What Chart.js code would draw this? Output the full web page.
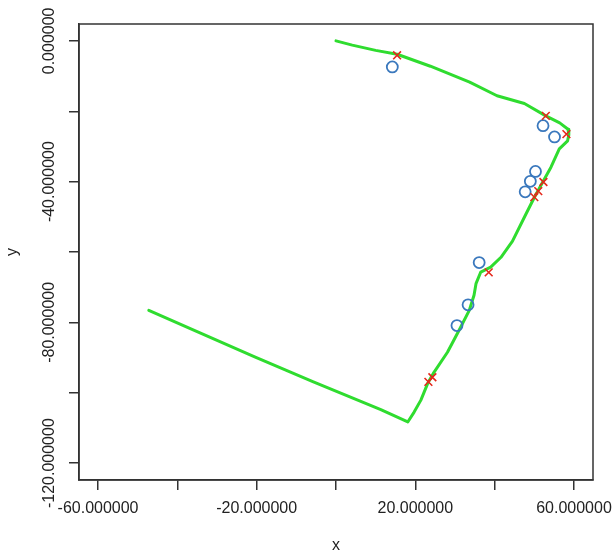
<!DOCTYPE html>
<html>
<head>
<meta charset="utf-8">
<script src="https://cdn.jsdelivr.net/npm/chart.js@4/dist/chart.umd.min.js"></script>
<style>
  html, body { margin: 0; padding: 0; background: #fff; }
  #plot { display: block; }
</style>
</head>
<body>
<canvas id="plot" width="612" height="555"></canvas>
<script>
// Track (green line)
const pathX = [0, 4.1, 10.0, 15.4, 23.8, 33.7, 40.6, 47.5, 52.9, 56.4, 58.5, 58.7, 58.4, 56.3, 54.2, 52.1, 50.0, 47.9, 44.5, 41.6, 39.0, 36.5, 35.3, 34.8, 33.6, 31.0, 28.1, 24.7, 23.1, 21.4, 19.7, 18.1, 11.3, -5.7, -20.5, -35.3, -47.2];
const pathY = [0, -1.2, -2.7, -3.8, -7.2, -11.7, -15.6, -17.8, -21.3, -23.3, -25.1, -26.7, -28.4, -30.7, -35.9, -40.2, -44.5, -49.2, -56.9, -61.5, -64.3, -65.7, -69.0, -72.3, -76.6, -82.3, -88.5, -94.2, -97.4, -102.1, -105.5, -108.3, -104.8, -96.9, -89.8, -82.5, -76.6];

// Blue circles
const circleX = [14.2, 52.2, 55.1, 50.3, 49.0, 47.7, 36.1, 33.3, 30.5];
const circleY = [-7.4, -24.1, -27.3, -37.1, -39.9, -42.9, -63.0, -75.0, -80.9];

// Red crosses
const crossX = [15.4, 52.9, 58.1, 52.3, 51.0, 50.0, 38.5, 24.3, 23.3];
const crossY = [-4.1, -21.3, -26.5, -40.1, -42.7, -44.4, -65.8, -95.6, -96.9];

// Axes
const xRange = [-64.8, 64.8];
const yRange = [-124.8, 4.8];
const xTickValues = [-60, -40, -20, 0, 20, 40, 60];
const yTickValues = [0, -20, -40, -60, -80, -100, -120];
const xLabelValues = [-60, -20, 20, 60];
const yLabelValues = [0, -40, -80, -120];

const toPoints = (xs, ys) => xs.map((x, i) => ({ x: x, y: ys[i] }));
const fontFamily = '"Liberation Sans", Arial, sans-serif';
const axisColor = '#333';
const textColor = '#222';

// box around the plot, rotated y labels and y title (R style)
const rStyle = {
  id: 'rStyle',
  afterDraw(chart) {
    const { ctx, chartArea: a, scales } = chart;
    ctx.save();
    ctx.strokeStyle = axisColor;
    ctx.lineWidth = 1.5;
    ctx.strokeRect(a.left, a.top, a.right - a.left, a.bottom - a.top);

    ctx.fillStyle = textColor;
    ctx.font = '16px ' + fontFamily;
    ctx.textAlign = 'center';
    ctx.textBaseline = 'middle';
    yLabelValues.forEach(v => {
      const py = scales.y.getPixelForValue(v);
      ctx.save();
      ctx.translate(a.left - 29, py);
      ctx.rotate(-Math.PI / 2);
      ctx.fillText(v.toFixed(6), 0, 0);
      ctx.restore();
    });
    ctx.save();
    ctx.translate(13, (a.top + a.bottom) / 2);
    ctx.rotate(-Math.PI / 2);
    ctx.fillText('y', 0, 0);
    ctx.restore();
    ctx.restore();
  }
};

new Chart(document.getElementById('plot'), {
  type: 'scatter',
  data: {
    datasets: [
      {
        label: 'cross',
        data: toPoints(crossX, crossY),
        pointStyle: 'crossRot',
        pointRadius: 5.5,
        borderColor: '#e5281c',
        borderWidth: 1.6,
        showLine: false
      },
      {
        label: 'circle',
        data: toPoints(circleX, circleY),
        pointStyle: 'circle',
        pointRadius: 5.5,
        borderColor: '#3a78bd',
        backgroundColor: 'rgba(0,0,0,0)',
        borderWidth: 1.8,
        showLine: false
      },
      {
        label: 'path',
        data: toPoints(pathX, pathY),
        showLine: true,
        pointRadius: 0,
        borderColor: '#2fdc2f',
        borderWidth: 3,
        borderJoinStyle: 'round',
        borderCapStyle: 'round',
        tension: 0
      }
    ]
  },
  options: {
    responsive: false,
    animation: false,
    layout: { padding: { top: 24, right: 19, left: 0, bottom: 0 } },
    plugins: {
      legend: { display: false },
      tooltip: { enabled: false }
    },
    scales: {
      x: {
        type: 'linear',
        min: xRange[0],
        max: xRange[1],
        afterBuildTicks: s => { s.ticks = xTickValues.map(v => ({ value: v })); },
        afterFit: s => { s.height = 75; s.paddingLeft = 0; s.paddingRight = 0; },
        grid: { drawOnChartArea: false, drawTicks: true, tickLength: 10, color: axisColor, lineWidth: 1.5 },
        border: { display: true, color: axisColor, width: 1.5 },
        ticks: {
          autoSkip: false,
          maxRotation: 0,
          padding: 9,
          color: textColor,
          font: { family: fontFamily, size: 16 },
          callback: v => xLabelValues.includes(v) ? v.toFixed(6) : ''
        },
        title: {
          display: true,
          text: 'x',
          color: textColor,
          font: { family: fontFamily, size: 16 },
          padding: { top: 0, bottom: 0 }
        }
      },
      y: {
        type: 'linear',
        min: yRange[0],
        max: yRange[1],
        afterBuildTicks: s => { s.ticks = yTickValues.map(v => ({ value: v })); },
        afterFit: s => { s.width = 79; s.paddingTop = 0; s.paddingBottom = 0; },
        grid: { drawOnChartArea: false, drawTicks: true, tickLength: 10, color: axisColor, lineWidth: 1.5 },
        border: { display: true, color: axisColor, width: 1.5 },
        ticks: { display: false }
      }
    }
  },
  plugins: [rStyle]
});
</script>
</body>
</html>
